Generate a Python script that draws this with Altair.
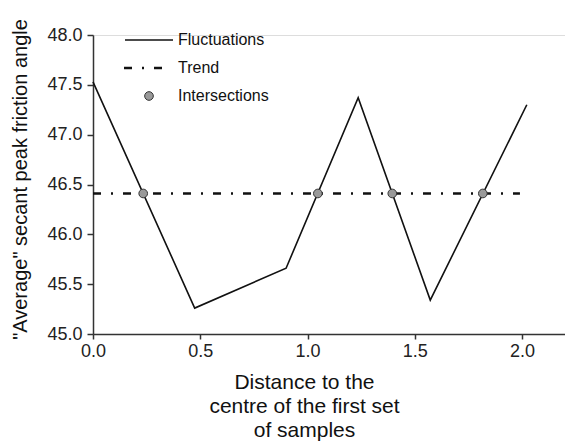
import altair as alt
import pandas as pd

# Fluctuation series (distance, average secant peak friction angle)
fluct_x = [0.0, 0.474, 0.90, 1.236, 1.572, 2.022]
fluct_y = [47.53, 45.26, 45.66, 47.37, 45.34, 47.30]

# Trend line
trend_x = [0.0, 1.99]
trend_y = [46.41, 46.41]

# Intersections
inter_x = [0.234, 1.048, 1.395, 1.817]
inter_y = [46.41, 46.41, 46.41, 46.41]

legend_labels = ["Fluctuations", "Trend", "Intersections"]

x_ticks = [0.0, 0.5, 1.0, 1.5, 2.0]
y_ticks = [45.0, 45.5, 46.0, 46.5, 47.0, 47.5, 48.0]

FONT = "Liberation Sans"
AX = "#333333"

fluct = pd.DataFrame({"x": fluct_x, "y": fluct_y})
trend = pd.DataFrame({"x": trend_x, "y": trend_y})
inter = pd.DataFrame({"x": inter_x, "y": inter_y})

xscale = alt.Scale(domain=[0, 2.2], nice=False, zero=False)
yscale = alt.Scale(domain=[45, 48], nice=False, zero=False)

xenc = alt.X(
    "x:Q", scale=xscale,
    axis=alt.Axis(
        values=x_ticks, format=".1f", grid=False,
        title=["Distance to the", "centre of the first set", "of samples"],
        titleFont=FONT, titleFontSize=21, titleFontWeight="normal", titleColor="#111",
        titleX=211, titleY=37, titleAlign="center", titleBaseline="top",
        titleLineHeight=24,
        labelFont=FONT, labelFontSize=18, labelColor="#222", labelPadding=3,
        tickSize=5, tickColor=AX, domainColor=AX, domainWidth=1.5, tickWidth=1.5,
        labelFlush=False,
    ),
)
yenc = alt.Y(
    "y:Q", scale=yscale,
    axis=alt.Axis(
        values=y_ticks, format=".1f", grid=False,
        title='"Average" secant peak friction angle',
        titleFont=FONT, titleFontSize=20, titleFontWeight="normal", titleColor="#111",
        titleX=-73, titleY=144, titleAlign="center", titleBaseline="middle",
        titleAngle=270,
        labelFont=FONT, labelFontSize=18, labelColor="#222", labelPadding=5,
        tickSize=6, tickColor=AX, domainColor=AX, domainWidth=1.5, tickWidth=1.5,
        labelFlush=False,
    ),
)

fl = alt.Chart(fluct).mark_line(color="#111", strokeWidth=1.6).encode(x=xenc, y=yenc)
tr = alt.Chart(trend).mark_line(color="#111", strokeWidth=2.6, strokeDash=[8, 10, 2, 10]).encode(x="x:Q", y="y:Q")
pt = alt.Chart(inter).mark_point(filled=True, fill="#999999", stroke="#333333", strokeWidth=1, size=75, opacity=1, shape="circle").encode(x="x:Q", y="y:Q")

leg = pd.DataFrame({"label": legend_labels})
leg_fl = alt.Chart(leg).transform_filter(alt.datum.label == legend_labels[0]).mark_rule(color="#111", strokeWidth=1.6).encode(
    x=alt.value(32), x2=alt.value(80), y=alt.value(5))
leg_tr = alt.Chart(leg).transform_filter(alt.datum.label == legend_labels[1]).mark_rule(color="#111", strokeWidth=2.6, strokeDash=[8, 10, 2, 10]).encode(
    x=alt.value(31), x2=alt.value(75), y=alt.value(33))
leg_pt = alt.Chart(leg).transform_filter(alt.datum.label == legend_labels[2]).mark_point(filled=True, fill="#999999", stroke="#333333", strokeWidth=1, size=75, opacity=1).encode(
    x=alt.value(56), y=alt.value(61))
leg_txt = alt.Chart(leg).transform_window(idx="row_number()").transform_calculate(
    ty="5 + (datum.idx - 1) * 28").mark_text(
    align="left", baseline="middle", font=FONT, fontSize=16, color="#111").encode(
    x=alt.value(85), y=alt.Y("ty:Q", scale=None), text="label:N")

chart = alt.layer(fl, tr, pt, leg_fl, leg_tr, leg_pt, leg_txt).properties(
    width=472, height=299,
    autosize=alt.AutoSizeParams(type="none"),
    padding={"left": 93, "top": 35, "right": 0, "bottom": 108},
).configure_view(stroke=None).configure(background="white")

chart.save("out.html", embed_options={"renderer": "svg", "actions": False})
